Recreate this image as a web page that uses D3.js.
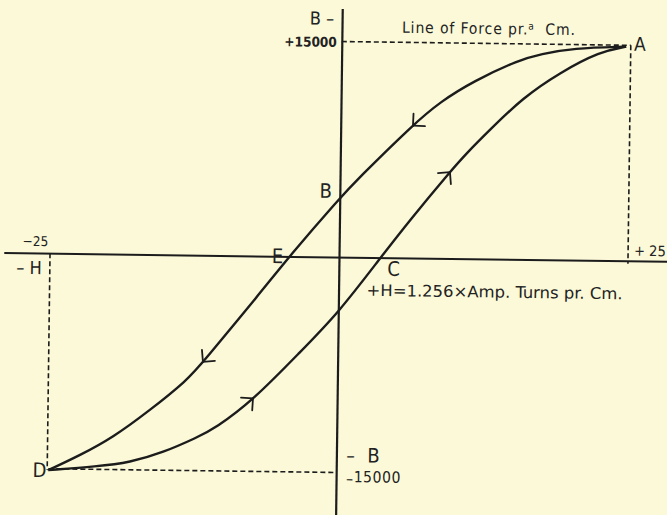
<!DOCTYPE html>
<html>
<head>
<meta charset="utf-8">
<script src="https://cdn.jsdelivr.net/npm/d3@7"></script>
<style>
  html,body{margin:0;padding:0;background:#fbf9d8;}
  svg{display:block;}
  text{font-family:"Liberation Sans Narrow","DejaVu Sans Condensed","Liberation Sans",Arial,sans-serif;fill:#222;}
</style>
</head>
<body>
<svg id="chart" width="667" height="515"></svg>
<script>
// ---- data (H in amp-turns/cm, B in lines of force per sq cm) ----
const descH = [24.6, 20.0, 17.2, 15.4, 11.4, 8.6, 6.25, 1.47, 0, -4.3, -6.8, -11.65, -13.0, -16.2, -19.35, -22.2, -24.9];
const descB = [14900, 14750, 14300, 13900, 12350, 10900, 9280, 5390, 4100, 0, -2600, -7450, -8720, -10850, -12770, -14050, -15100];
const ascH  = [-24.9, -20.7, -17.85, -15.0, -12.08, -10.53, -7.28, -3.2, 0, 3.6, 6.1, 9.5, 10.95, 12.92, 15.74, 18.91, 22.35, 24.6];
const ascB  = [-15100, -14800, -14490, -13770, -12690, -12040, -10060, -6600, -3900, 0, 2645, 6030, 7370, 9000, 11260, 13040, 14540, 14900];
const descArrowH = [6.25, -11.65];
const ascArrowH  = [9.5, -7.28];
const hLimits = [-25, 25];
const bLimits = [-15000, 15000];
const hTickLabels = ["\u221225", "+ 25"];
const bTickLabels = ["+15000", "\u221215000"];
const pointLabels = ["A", "B", "C", "D", "E"];

const svg = d3.select("#chart");
svg.append("rect").attr("width", 667).attr("height", 515).attr("fill", "#fbf9d8");

const x = d3.scaleLinear().domain([-25, 25]).range([-289, 289]);
const y = d3.scaleLinear().domain([-15000, 15000]).range([215.5, -215.5]);

const g = svg.append("g").attr("transform", "translate(339,257) rotate(0.75)");
const ink = "#1c1c1c";

// axes (domain lines only)
const xAxisScale = d3.scaleLinear().domain([-29, 29]).range([x(-29), x(29)]);
const yAxisScale = d3.scaleLinear().domain([-18100, 17300]).range([y(-18100), y(17300)]);
const xAx = g.append("g").call(d3.axisBottom(xAxisScale).tickValues([]).tickSizeOuter(0));
xAx.select(".domain").attr("stroke", ink).attr("stroke-width", 2);
const yAx = g.append("g").call(d3.axisLeft(yAxisScale).tickValues([]).tickSizeOuter(0));
yAx.select(".domain").attr("stroke", ink).attr("stroke-width", 2.2);

// dashed guide lines
const dash = "5,3";
const A = {h: descH[0], b: descB[0]};
const D = {h: descH[descH.length - 1], b: descB[descB.length - 1]};
function dl(x1, y1, x2, y2) {
  g.append("line").attr("x1", x1).attr("y1", y1).attr("x2", x2).attr("y2", y2)
    .attr("stroke", ink).attr("stroke-width", 1.6).attr("stroke-dasharray", dash);
}
dl(x(0), y(bLimits[1]), x(hLimits[1]), y(bLimits[1]));
dl(x(hLimits[1]), y(bLimits[1]), x(hLimits[1]), y(0) + 3);
dl(x(hLimits[0]), y(0), x(hLimits[0]), y(D.b));
dl(x(D.h), y(bLimits[0]), x(0), y(bLimits[0]));

// curves
const line = d3.line().x(d => x(d[0])).y(d => y(d[1])).curve(d3.curveBasis);
const descPts = descH.map((h, i) => [h, descB[i]]);
const ascPts = ascH.map((h, i) => [h, ascB[i]]);
const descPath = g.append("path").attr("d", line(descPts)).attr("fill", "none").attr("stroke", ink).attr("stroke-width", 2.4);
const ascPath = g.append("path").attr("d", line(ascPts)).attr("fill", "none").attr("stroke", ink).attr("stroke-width", 2.4);

// arrowheads along curves (direction of travel follows path direction)
function arrowAt(pathSel, hVal, decreasing) {
  const node = pathSel.node();
  const L = node.getTotalLength();
  const tx = x(hVal);
  let lo = 0, hi = L;
  for (let k = 0; k < 40; k++) {
    const mid = (lo + hi) / 2;
    const px = node.getPointAtLength(mid).x;
    if (decreasing ? px > tx : px < tx) lo = mid; else hi = mid;
  }
  const s = (lo + hi) / 2;
  const p = node.getPointAtLength(s);
  const p2 = node.getPointAtLength(Math.max(0, s - 4));
  const back = Math.atan2(p2.y - p.y, p2.x - p.x);
  const len = 12, spread = Math.PI / 4;
  [back - spread, back + spread].forEach(a => {
    g.append("line").attr("x1", p.x).attr("y1", p.y)
      .attr("x2", p.x + len * Math.cos(a)).attr("y2", p.y + len * Math.sin(a))
      .attr("stroke", ink).attr("stroke-width", 1.8).attr("stroke-linecap", "round");
  });
}
descArrowH.forEach(h => arrowAt(descPath, h, true));
ascArrowH.forEach(h => arrowAt(ascPath, h, false));

// text
function txt(str, tx, ty, size, anchor) {
  return g.append("text").attr("x", tx).attr("y", ty).attr("font-size", size)
    .attr("text-anchor", anchor || "start").text(str);
}
txt("B \u2013", x(0) - 8, y(bLimits[1]) - 16.5, 18, "end");
txt(bTickLabels[0], x(0) - 5, y(bLimits[1]) + 5.5, 13.5, "end").attr("font-weight", "bold");
const lof = g.append("text").attr("x", x(0) + 60).attr("y", y(bLimits[1]) - 9.5).attr("font-size", 15.5).attr("letter-spacing", 0.9);
lof.append("tspan").text("Line of Force pr.");
lof.append("tspan").attr("font-size", 10).attr("dy", -5).text("a");
lof.append("tspan").attr("dy", 5).text("\u00a0\u00a0Cm.");
txt(pointLabels[0], x(A.h) + 8, y(A.b) + 4, 19);
// B: descending branch crossing of H = 0
txt(pointLabels[1], x(0) - 8, y(descB[descH.indexOf(0)]), 20, "end");
// E: descending crossing of B = 0
txt(pointLabels[4], x(descH[descB.indexOf(0)]) - 6, y(0) + 7, 20, "end");
// C: ascending crossing of B = 0
txt(pointLabels[2], x(ascH[ascB.indexOf(0)]) + 7, y(0) + 18, 20);
txt(pointLabels[3], x(D.h) - 2, y(D.b) + 7, 20, "end");
txt(hTickLabels[0], x(hLimits[0]) - 2, y(0) - 7, 13.5, "end");
txt("\u2013 H", x(hLimits[0]) - 8, y(0) + 21, 18, "end");
txt(hTickLabels[1], x(hLimits[1]) + 6, y(0) - 5, 14.5);
txt("+H=1.256\u00d7Amp. Turns pr.  Cm.", x(0) + 28, y(0) + 38.5, 16).attr("textLength", 256).attr("lengthAdjust", "spacingAndGlyphs");
txt("\u2013", x(0) + 10, y(bLimits[0]) - 10.5, 19);
txt("B", x(0) + 31, y(bLimits[0]) - 10.5, 20);
const lb = g.append("text").attr("x", x(0) + 10).attr("y", y(bLimits[0]) + 9.5).attr("font-size", 15.5).attr("letter-spacing", 0.6);
lb.append("tspan").attr("dy", 2).text("\u2013");
lb.append("tspan").attr("dy", -2).text(bTickLabels[1].slice(1));
</script>
</body>
</html>
